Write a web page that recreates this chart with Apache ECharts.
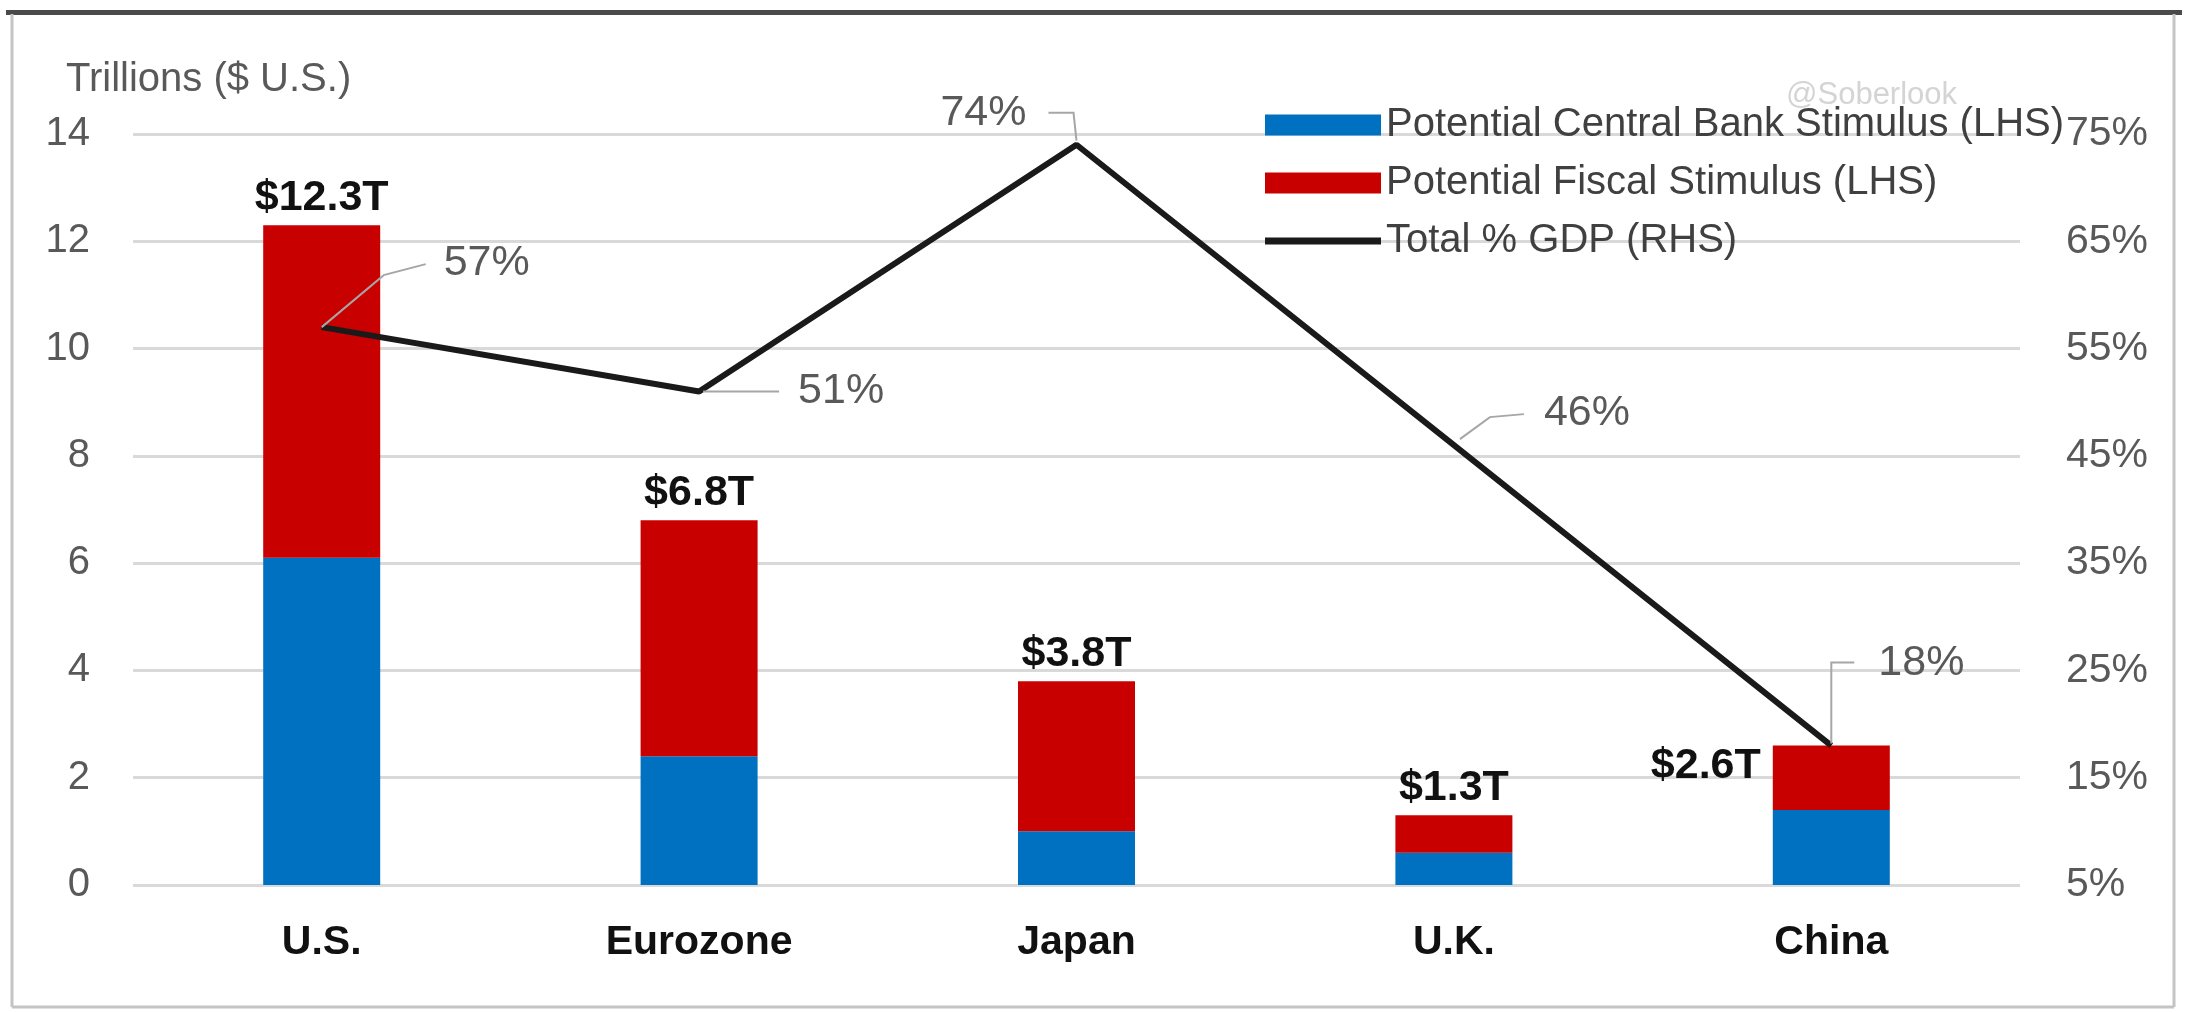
<!DOCTYPE html>
<html>
<head>
<meta charset="utf-8">
<title>Potential stimulus by economy</title>
<script src="https://cdn.jsdelivr.net/npm/echarts@6/dist/echarts.min.js"></script>
<style>
  html, body { margin: 0; padding: 0; background: #ffffff; }
  #chart { width: 2188px; height: 1013px; }
</style>
</head>
<body>
<div id="chart"></div>
<script>
// ---- data ----
const regions = ['U.S.', 'Eurozone', 'Japan', 'U.K.', 'China'];
const centralBank = [6.1, 2.4, 1.0, 0.6, 1.4];   // trillions USD
const fiscal = [6.2, 4.4, 2.8, 0.7, 1.2];        // trillions USD
const gdpPct = [57, 51, 74, 46, 18];             // total as % of GDP
const leftTicks = { min: 0, max: 14, step: 2 };
const rightTicks = { min: 5, max: 75, step: 10 };

// ---- look ----
const FONT = '"Liberation Sans", Arial, sans-serif';
const BLUE = '#0070C0';
const RED = '#C80000';
const GRID_GRAY = '#d9d9d9';
const TEXT_GRAY = '#595959';

// guide lines and label placement for the % of GDP labels (pixel offsets from the point)
const pctLabelLayout = [
  { guide: [[0, 0], [62, -52], [104, -63]], dx: 122, dy: -64, align: 'left' },
  { guide: [[4, 0], [80, 0]], dx: 99, dy: 0, align: 'left' },
  { guide: [[0, -4], [-3, -32], [-28, -32]], dx: -50, dy: -32, align: 'right' },
  { guide: [[6, -6], [36, -28], [70, -31]], dx: 90, dy: -32, align: 'left' },
  { guide: [[0, -2], [0, -83], [23, -83]], dx: 47, dy: -82, align: 'left' }
];

const totals = centralBank.map((v, i) => v + fiscal[i]);

const chart = echarts.init(document.getElementById('chart'), null, { renderer: 'canvas' });

const option = {
  backgroundColor: '#ffffff',
  animation: false,
  textStyle: { fontFamily: FONT },
  grid: { left: 133, right: 168, top: 134, bottom: 128, containLabel: false },
  legend: {
    orient: 'vertical',
    left: 1260,
    top: 100,
    itemWidth: 116,
    itemHeight: 21,
    itemGap: 18,
    selectedMode: false,
    symbolKeepAspect: true,
    data: [
      { name: 'Potential Central Bank Stimulus (LHS)', icon: 'rect' },
      { name: 'Potential Fiscal Stimulus (LHS)', icon: 'rect' },
      { name: 'Total % GDP (RHS)', icon: 'path://M0,0H116V7H0Z' }
    ],
    textStyle: { fontFamily: FONT, fontSize: 40, color: '#404040' }
  },
  xAxis: {
    type: 'category',
    data: regions,
    axisLine: { show: false },
    axisTick: { show: false },
    axisLabel: {
      margin: 37,
      fontFamily: FONT,
      fontSize: 41,
      fontWeight: 'bold',
      color: '#111111'
    }
  },
  yAxis: [
    {
      type: 'value',
      min: leftTicks.min,
      max: leftTicks.max,
      interval: leftTicks.step,
      axisLine: { show: false },
      axisTick: { show: false },
      axisLabel: { margin: 43, fontFamily: FONT, fontSize: 40, color: TEXT_GRAY },
      splitLine: { lineStyle: { color: GRID_GRAY, width: 3 } }
    },
    {
      type: 'value',
      min: rightTicks.min,
      max: rightTicks.max,
      interval: rightTicks.step,
      position: 'right',
      axisLine: { show: false },
      axisTick: { show: false },
      splitLine: { show: false },
      axisLabel: {
        margin: 46,
        align: 'left',
        fontFamily: FONT,
        fontSize: 41,
        color: TEXT_GRAY,
        formatter: '{value}%'
      }
    }
  ],
  series: [
    {
      name: 'Potential Central Bank Stimulus (LHS)',
      type: 'bar',
      stack: 'total',
      barWidth: 117,
      itemStyle: { color: BLUE },
      data: centralBank
    },
    {
      name: 'Potential Fiscal Stimulus (LHS)',
      type: 'bar',
      stack: 'total',
      barWidth: 117,
      itemStyle: { color: RED },
      label: {
        show: true,
        position: 'top',
        distance: 6,
        fontFamily: FONT,
        fontSize: 43,
        fontWeight: 'bold',
        color: '#111111',
        formatter: p => '$' + totals[p.dataIndex].toFixed(1) + 'T'
      },
      data: fiscal.map((v, i) => i === regions.length - 1
        ? { value: v, label: { position: 'left', distance: 12, offset: [0, -12] } }
        : v)
    },
    {
      name: 'Total % GDP (RHS)',
      type: 'line',
      yAxisIndex: 1,
      symbol: 'none',
      z: 5,
      lineStyle: { color: '#1a1a1a', width: 6 },
      itemStyle: { color: '#1a1a1a' },
      data: gdpPct
    },
    {
      name: 'pct-labels',
      type: 'custom',
      yAxisIndex: 1,
      z: 6,
      encode: { x: 0, y: 1 },
      data: gdpPct.map((v, i) => [i, v]),
      renderItem: (params, api) => {
        const i = params.dataIndex;
        const v = api.value(1);
        const p = api.coord([api.value(0), v]);
        const lay = pctLabelLayout[i];
        return {
          type: 'group',
          children: [
            {
              type: 'polyline',
              shape: { points: lay.guide.map(([a, b]) => [p[0] + a, p[1] + b]) },
              style: { stroke: '#a6a6a6', lineWidth: 2, fill: null }
            },
            {
              type: 'text',
              x: p[0] + lay.dx,
              y: p[1] + lay.dy,
              style: {
                text: v + '%',
                fill: TEXT_GRAY,
                font: '43px ' + FONT,
                align: lay.align,
                verticalAlign: 'middle'
              }
            }
          ]
        };
      }
    }
  ],
  graphic: [
    // frame
    { type: 'rect', shape: { x: 6, y: 10, width: 2176, height: 5 }, style: { fill: '#4a4a4a' }, silent: true },
    { type: 'line', shape: { x1: 12, y1: 14, x2: 12, y2: 1007 }, style: { stroke: '#c4c4c4', lineWidth: 3 }, silent: true },
    { type: 'line', shape: { x1: 2174, y1: 14, x2: 2174, y2: 1007 }, style: { stroke: '#c4c4c4', lineWidth: 3 }, silent: true },
    { type: 'line', shape: { x1: 12, y1: 1007, x2: 2174, y2: 1007 }, style: { stroke: '#c4c4c4', lineWidth: 3 }, silent: true },
    // axis title
    {
      type: 'text', left: 66, top: 60, silent: true,
      style: { text: 'Trillions ($ U.S.)', font: '40px ' + FONT, fill: TEXT_GRAY }
    },
    // watermark
    {
      type: 'text', left: 1786, top: 80, z: -1, silent: true,
      style: { text: '@Soberlook', font: '31px ' + FONT, fill: '#d4d4d4' }
    }
  ]
};

chart.setOption(option);
</script>
</body>
</html>
